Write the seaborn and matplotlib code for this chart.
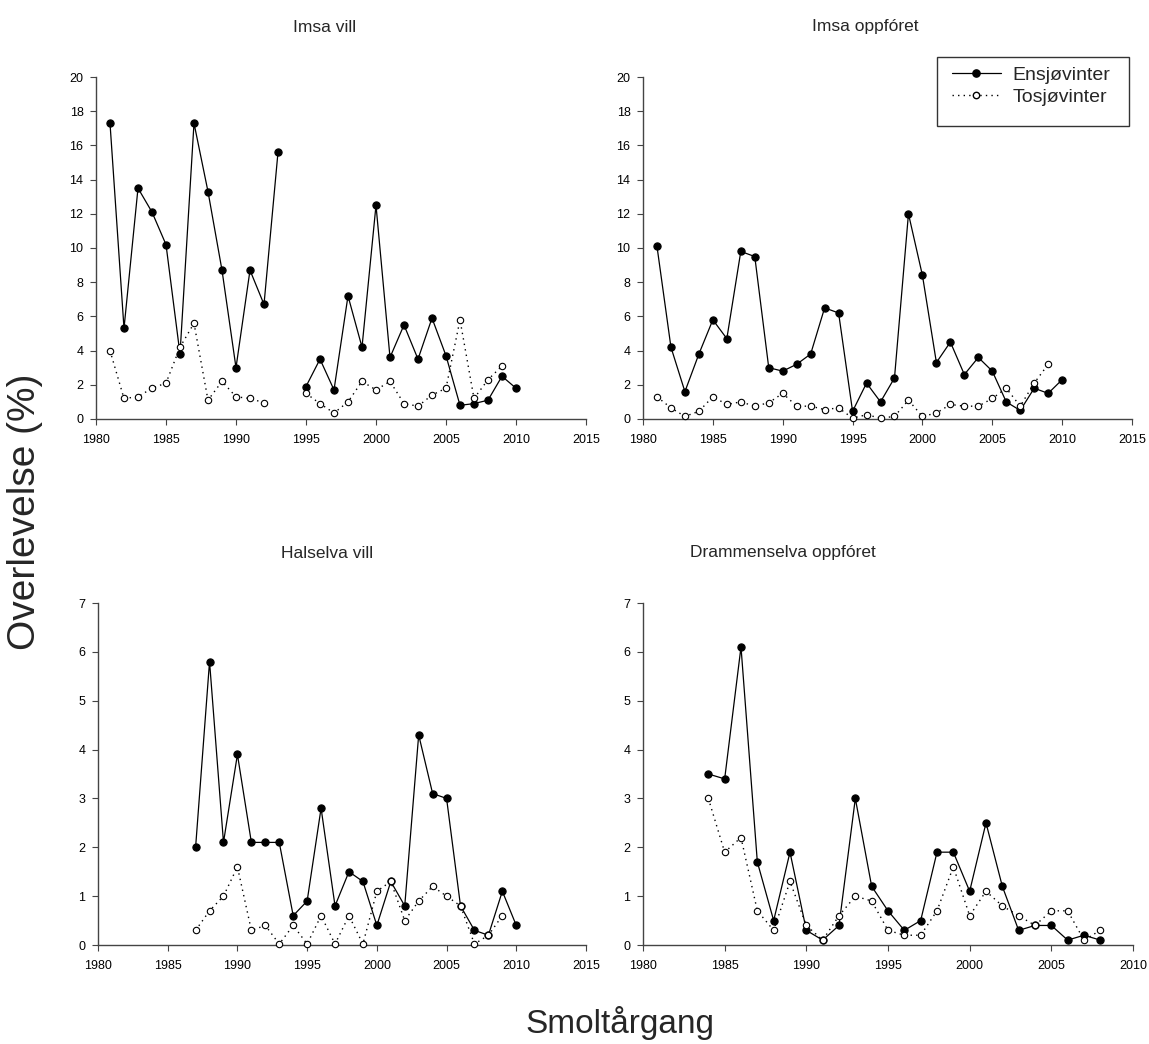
import numpy as np
import pandas as pd
import matplotlib
matplotlib.use("Agg")
import matplotlib.pyplot as plt
import seaborn as sns
from matplotlib.lines import Line2D
from matplotlib.patches import Rectangle

sns.set_theme(style="ticks")
plt.rcParams['font.family'] = ['Liberation Sans', 'DejaVu Sans']

nan = np.nan

# ---------------- data ----------------
years_imsa = list(range(1981, 2011))
imsa_vill_1sw = [17.3, 5.3, 13.5, 12.1, 10.2, 3.8, 17.3, 13.3, 8.7, 3.0,
                 8.7, 6.7, 15.6, nan, 1.9, 3.5, 1.7, 7.2, 4.2, 12.5,
                 3.6, 5.5, 3.5, 5.9, 3.7, 0.8, 0.9, 1.1, 2.5, 1.8]
imsa_vill_2sw = [4.0, 1.2, 1.3, 1.8, 2.1, 4.2, 5.6, 1.1, 2.2, 1.3,
                 1.2, 0.95, nan, nan, 1.5, 0.9, 0.35, 1.0, 2.2, 1.7,
                 2.2, 0.9, 0.75, 1.4, 1.8, 5.8, 1.2, 2.3, 3.1, nan]

imsa_opp_1sw = [10.1, 4.2, 1.6, 3.8, 5.8, 4.7, 9.8, 9.5, 3.0, 2.8,
                3.2, 3.8, 6.5, 6.2, 0.45, 2.1, 1.0, 2.4, 12.0, 8.4,
                3.3, 4.5, 2.6, 3.6, 2.8, 1.0, 0.5, 1.8, 1.5, 2.3]
imsa_opp_2sw = [1.3, 0.65, 0.15, 0.45, 1.3, 0.85, 1.0, 0.75, 0.95, 1.5,
                0.75, 0.75, 0.55, 0.65, 0.05, 0.25, 0.05, 0.15, 1.1, 0.15,
                0.35, 0.85, 0.75, 0.75, 1.2, 1.8, 0.75, 2.1, 3.2, nan]

years_hals = list(range(1987, 2011))
hals_1sw = [2.0, 5.8, 2.1, 3.9, 2.1, 2.1, 2.1, 0.6, 0.9, 2.8,
            0.8, 1.5, 1.3, 0.4, 1.3, 0.8, 4.3, 3.1, 3.0, 0.8,
            0.3, 0.2, 1.1, 0.4]
hals_2sw = [0.3, 0.7, 1.0, 1.6, 0.3, 0.4, 0.02, 0.4, 0.02, 0.6,
            0.02, 0.6, 0.02, 1.1, 1.3, 0.5, 0.9, 1.2, 1.0, 0.8,
            0.02, 0.2, 0.6, nan]

years_dram = list(range(1984, 2009))
dram_1sw = [3.5, 3.4, 6.1, 1.7, 0.5, 1.9, 0.3, 0.1, 0.4, 3.0,
            1.2, 0.7, 0.3, 0.5, 1.9, 1.9, 1.1, 2.5, 1.2, 0.3,
            0.4, 0.4, 0.1, 0.2, 0.1]
dram_2sw = [3.0, 1.9, 2.2, 0.7, 0.3, 1.3, 0.4, 0.1, 0.6, 1.0,
            0.9, 0.3, 0.2, 0.2, 0.7, 1.6, 0.6, 1.1, 0.8, 0.6,
            0.4, 0.7, 0.7, 0.1, 0.3]

titles = ["Imsa vill", "Imsa oppfóret", "Halselva vill", "Drammenselva oppfóret"]
series_names = ["Ensjøvinter", "Tosjøvinter"]

panels = [
    (years_imsa, imsa_vill_1sw, imsa_vill_2sw),
    (years_imsa, imsa_opp_1sw, imsa_opp_2sw),
    (years_hals, hals_1sw, hals_2sw),
    (years_dram, dram_1sw, dram_2sw),
]


def to_frame(years, values):
    df = pd.DataFrame({"year": years, "value": values})
    df["seg"] = df["value"].isna().cumsum()
    return df.dropna()


# ---------------- layout (pixel based) ----------------
W, H = 1149, 1044
fig = plt.figure(figsize=(W / 100, H / 100), dpi=100)


def fx(px):
    return px / W


def fy(py):
    return 1 - py / H


def ax_at(l, r, top, bottom):
    return fig.add_axes([l / W, 1 - bottom / H, (r - l) / W, (bottom - top) / H])


ax_boxes = [
    (96, 586, 77, 419),
    (643, 1132, 77, 419),
    (98, 586, 603, 945),
    (643, 1133, 603, 945),
]
xlims = [(1980, 2015), (1980, 2015), (1980, 2015), (1980, 2010)]
ylims = [(0, 20), (0, 20), (0, 7), (0, 7)]
yticks = [np.arange(0, 21, 2), np.arange(0, 21, 2), np.arange(0, 8, 1), np.arange(0, 8, 1)]
title_pos = [(325, 27), (865, 27), (327, 553), (783, 553)]

MS_F, MS_O = 5.2, 4.6
DOT = (0, (1, 3))

for i, (yrs, s1, s2) in enumerate(panels):
    ax = ax_at(*ax_boxes[i])
    d1 = to_frame(yrs, s1)
    d2 = to_frame(yrs, s2)
    sns.lineplot(data=d1, x="year", y="value", units="seg", estimator=None,
                 ax=ax, color="black", linewidth=0.9, linestyle="-",
                 marker="o", markersize=MS_F, markerfacecolor="black",
                 markeredgecolor="black", markeredgewidth=0.8, zorder=3,
                 legend=False)
    sns.lineplot(data=d2, x="year", y="value", units="seg", estimator=None,
                 ax=ax, color="black", linewidth=1.0, linestyle=DOT,
                 marker="o", markersize=MS_O, markerfacecolor="white",
                 markeredgecolor="black", markeredgewidth=0.8, zorder=4,
                 legend=False)
    ax.set_xlim(*xlims[i])
    ax.set_ylim(*ylims[i])
    ax.set_xticks(np.arange(xlims[i][0], xlims[i][1] + 1, 5))
    ax.set_yticks(yticks[i])
    ax.set_xlabel("")
    ax.set_ylabel("")
    ax.set_facecolor("white")
    for side in ["top", "right"]:
        ax.spines[side].set_visible(False)
    for side in ["left", "bottom"]:
        ax.spines[side].set_color("#444444")
        ax.spines[side].set_linewidth(1.0)
    ax.tick_params(axis="both", direction="out", length=4, width=0.8,
                   colors="#444444", labelcolor="black", labelsize=9)
    ax.tick_params(axis="x", pad=7)
    ax.tick_params(axis="y", pad=5)
    for ln in ax.lines:
        ln.set_clip_on(False)
    tx, ty = title_pos[i]
    fig.text(fx(tx), fy(ty), titles[i], ha="center", va="center", fontsize=12.5)

# legend (frame drawn separately, SigmaPlot style)
handles = [
    Line2D([0], [0], color="black", linewidth=0.9, linestyle="-", marker="o",
           markersize=MS_F, markerfacecolor="black", markeredgecolor="black"),
    Line2D([0], [0], color="black", linewidth=1.0, linestyle=DOT, marker="o",
           markersize=MS_O, markerfacecolor="white", markeredgecolor="black"),
]
leg = fig.legend(handles, series_names, loc="center left",
                 bbox_to_anchor=(fx(952), fy(86)), bbox_transform=fig.transFigure,
                 frameon=False, fontsize=14, handlelength=2.5,
                 borderpad=0, labelspacing=0.2, handletextpad=0.6, borderaxespad=0)
fig.patches.append(Rectangle((fx(937), fy(126)), fx(1129) - fx(937), fy(57) - fy(126),
                             transform=fig.transFigure, fill=False,
                             edgecolor="#333333", linewidth=1.0))

fig.text(fx(25), fy(512), "Overlevelse (%)", rotation=90, ha="center", va="center",
         fontsize=28)
fig.text(fx(620), fy(1033), "Smoltårgang", ha="center", va="baseline", fontsize=24)

fig.savefig("out.png", dpi=100, facecolor="white")
